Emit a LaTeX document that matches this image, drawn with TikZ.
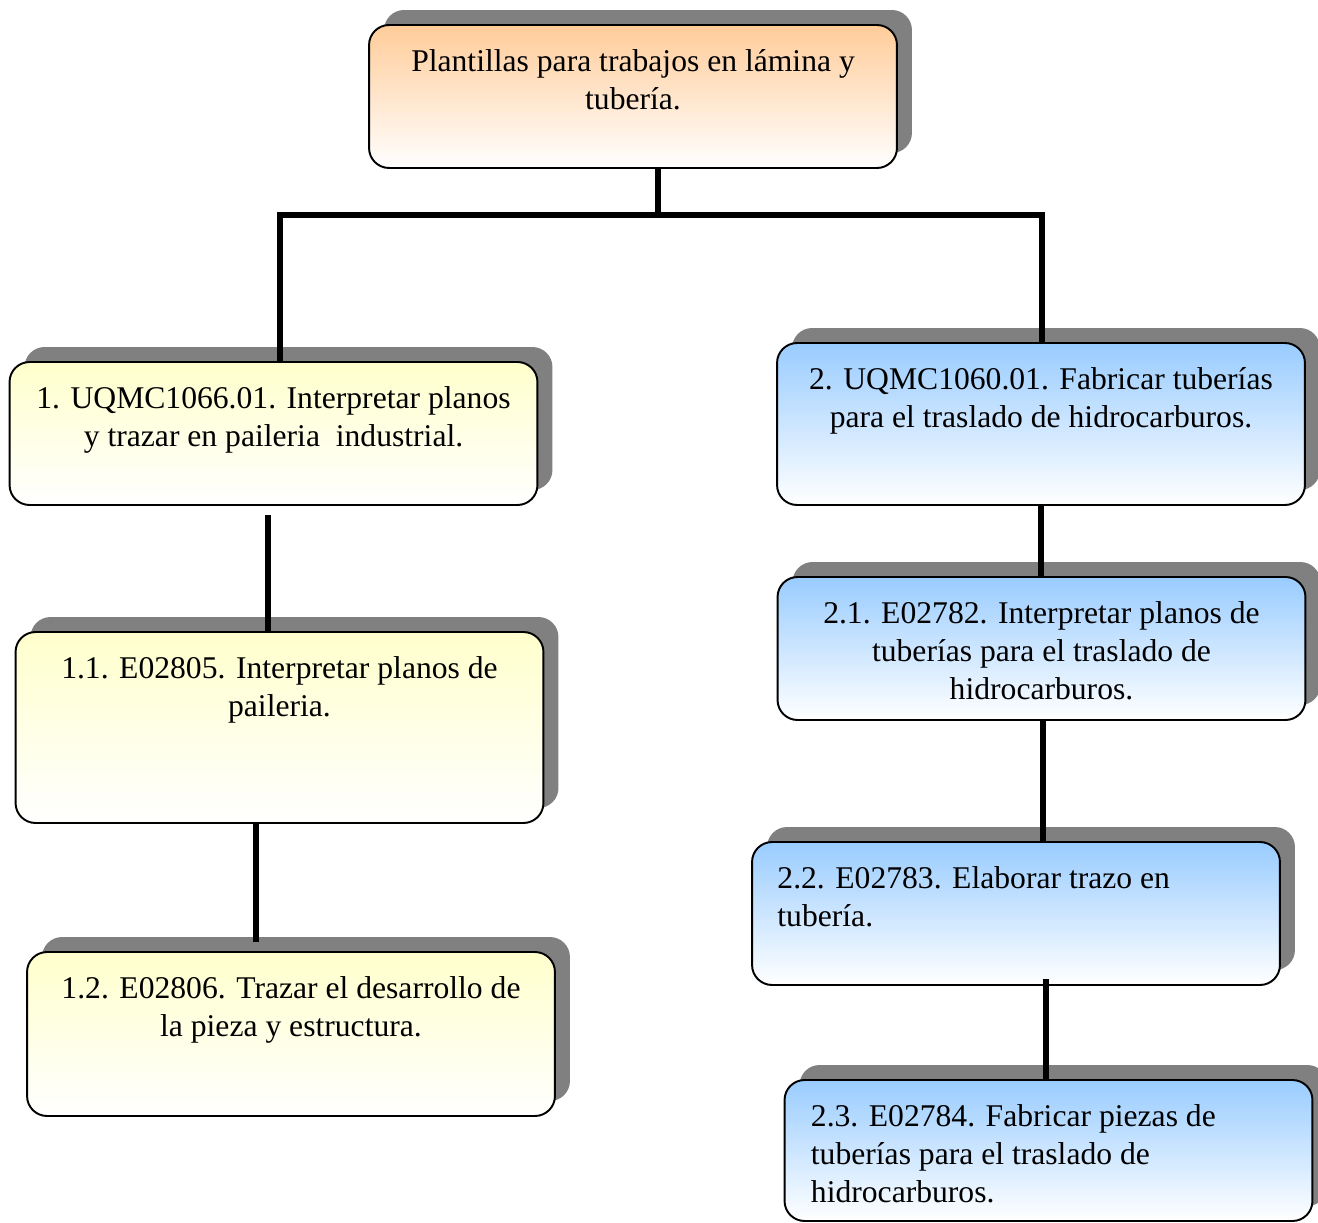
\documentclass[tikz,border=0pt]{standalone}
\usepackage{fontspec}
\setmainfont{Liberation Serif}
\definecolor{boxpeach}{RGB}{255,204,153}
\definecolor{boxyellow}{RGB}{255,255,204}
\definecolor{boxblue}{RGB}{153,204,255}
\definecolor{boxshadow}{RGB}{128,128,128}
\usetikzlibrary{shadows,calc}

\begin{document}
\begin{tikzpicture}[x=0.02cm,y=-0.02cm,
  unit/.style={draw,line width=1.1pt,rounded corners=0.4cm,minimum width=10.56cm,
               bottom color=white,
               drop shadow={shadow xshift=0.3cm,shadow yshift=0.3cm,fill=boxshadow,opacity=1}},
  txt/.style={font=\fontsize{18}{21.6}\selectfont,align=center,inner sep=0pt,anchor=north},
  link/.style={line width=3pt}]
  \useasboundingbox (0,0) rectangle (1318,1223);

  % top unit
  \node[unit,top color=boxpeach,minimum height=2.86cm] (b0) at (633,96.5) {};
  \node[txt] (t0) at ($(b0.north)+(0,25)$) {Plantillas para trabajos en lámina y\\tubería.};

  % left branch
  \node[unit,top color=boxyellow,minimum height=2.86cm] (b1) at (273.5,433.5) {};
  \node[txt] (t1) at ($(b1.north)+(0,25)$) {1. UQMC1066.01. Interpretar planos\\y trazar en paileria\ \ industrial.};
  \node[unit,top color=boxyellow,minimum height=3.82cm] (b11) at (279.5,727.5) {};
  \node[txt] (t11) at ($(b11.north)+(0,25)$) {1.1. E02805. Interpretar planos de\\paileria.};
  \node[unit,top color=boxyellow,minimum height=3.28cm] (b12) at (291,1034) {};
  \node[txt] (t12) at ($(b12.north)+(0,25)$) {1.2. E02806. Trazar el desarrollo de\\la pieza y estructura.};

  % right branch
  \node[unit,top color=boxblue,minimum height=3.24cm] (b2) at (1041,424) {};
  \node[txt] (t2) at ($(b2.north)+(0,25)$) {2. UQMC1060.01. Fabricar tuberías\\para el traslado de hidrocarburos.};
  \node[unit,top color=boxblue,minimum height=2.86cm] (b21) at (1041.5,648.5) {};
  \node[txt] (t21) at ($(b21.north)+(0,25)$) {2.1. E02782. Interpretar planos de\\tuberías para el traslado de\\hidrocarburos.};
  \node[unit,top color=boxblue,minimum height=2.86cm] (b22) at (1016,913.5) {};
  \node[txt,align=left,anchor=north west] (t22) at ($(b22.north west)+(26,25)$) {2.2. E02783. Elaborar trazo en\\tubería.};
  \node[unit,top color=boxblue,minimum height=2.82cm] (b23) at (1048.5,1150.5) {};
  \node[txt,align=left,anchor=north west] (t23) at ($(b23.north west)+(27,25)$) {2.3. E02784. Fabricar piezas de\\tuberías para el traslado de\\hidrocarburos.};

  % connectors
  \coordinate (hub) at (658,215);
  \coordinate (barL) at (280,215);
  \coordinate (barR) at (1042,215);
  \draw[link] (b0.south -| hub) -- (hub);
  \draw[link,line cap=rect] (barL) -- (barR);
  \draw[link] (barL) -- (barL |- b1.north);
  \draw[link] (barR) -- (barR |- b2.north);
  \coordinate (j1) at (268,515);
  \draw[link] (j1) -- (j1 |- b11.north);
  \coordinate (j2) at (256,942);
  \draw[link] (j2 |- b11.south) -- (j2);
  \draw[link] (b2.south) -- (b2.south |- b21.north);
  \coordinate (j3) at (1043,720);
  \draw[link] (j3) -- (j3 |- b22.north);
  \coordinate (j4) at (1046,979);
  \draw[link] (j4) -- (j4 |- b23.north);
\end{tikzpicture}
\end{document}
